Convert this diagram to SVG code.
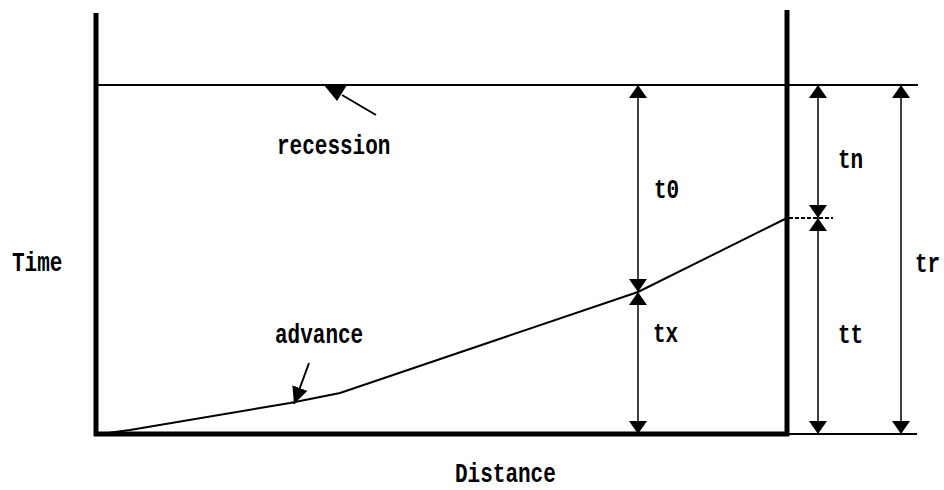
<svg xmlns="http://www.w3.org/2000/svg" width="944" height="490" viewBox="0 0 944 490">
<defs>
<style>
.lbl{font-family:"Liberation Mono","DejaVu Sans Mono",monospace;font-weight:bold;font-size:21px;fill:#000}
.thick{stroke:#000;stroke-width:5;fill:none}
.thin{stroke:#000;stroke-width:2;fill:none}
.dim{stroke:#000;stroke-width:1.5;fill:none;marker-start:url(#arr);marker-end:url(#arr)}
</style>
<marker id="arr" markerUnits="userSpaceOnUse" viewBox="0 0 13 18" refX="13" refY="9" markerWidth="13" markerHeight="18" orient="auto-start-reverse">
<path d="M0,0 L13,9 L0,18 z" fill="#000"/>
</marker>
<marker id="arr2" markerUnits="userSpaceOnUse" viewBox="0 0 17 16" refX="17" refY="8" markerWidth="17" markerHeight="16" orient="auto">
<path d="M0,0 L17,8 L0,16 z" fill="#000"/>
</marker>
</defs>
<rect width="944" height="490" fill="#fff"/>
<g id="axes">
<line class="thick" x1="96" y1="13" x2="96" y2="436"/>
<line class="thick" x1="94" y1="434" x2="789" y2="434"/>
<line class="thick" x1="787" y1="10" x2="787" y2="436"/>
<line class="thin" x1="789" y1="434" x2="917" y2="434"/>
<line class="thin" x1="96" y1="85" x2="918" y2="85"/>
<line class="thin" x1="789" y1="218" x2="833" y2="218" stroke-dasharray="4,2"/>
</g>
<g id="advance-curve">
<polyline class="thin" points="100,434 130,430 290,403 340,393 638,292 787,218"/>
</g>
<g id="connectors">
<line class="dim" x1="638" y1="85" x2="638" y2="292"/>
<line class="dim" x1="638" y1="292" x2="638" y2="434"/>
<line class="dim" x1="818" y1="85" x2="818" y2="218"/>
<line class="dim" x1="818" y1="218" x2="818" y2="434"/>
<line class="dim" x1="901" y1="85" x2="901" y2="434"/>
<line x1="376" y1="115" x2="342" y2="95" stroke="#000" stroke-width="2"/>
<polygon points="324,85 347,85 337,101" fill="#000"/>
<line x1="309" y1="363" x2="294" y2="404" stroke="#000" stroke-width="2" marker-end="url(#arr2)"/>
</g>
<g id="labels">
<text class="lbl" transform="translate(12,271) scale(1,1.35)">Time</text>
<text class="lbl" transform="translate(277,154) scale(1,1.35)">recession</text>
<text class="lbl" transform="translate(275,343) scale(1,1.35)">advance</text>
<text class="lbl" transform="translate(654,198) scale(1,1.35)">t0</text>
<text class="lbl" transform="translate(653,342) scale(1,1.35)">tx</text>
<text class="lbl" transform="translate(838,168) scale(1,1.35)">tn</text>
<text class="lbl" transform="translate(838,343) scale(1,1.35)">tt</text>
<text class="lbl" transform="translate(915,272) scale(1,1.35)">tr</text>
<text class="lbl" transform="translate(455,482) scale(1,1.3)">Distance</text>
</g>
</svg>
